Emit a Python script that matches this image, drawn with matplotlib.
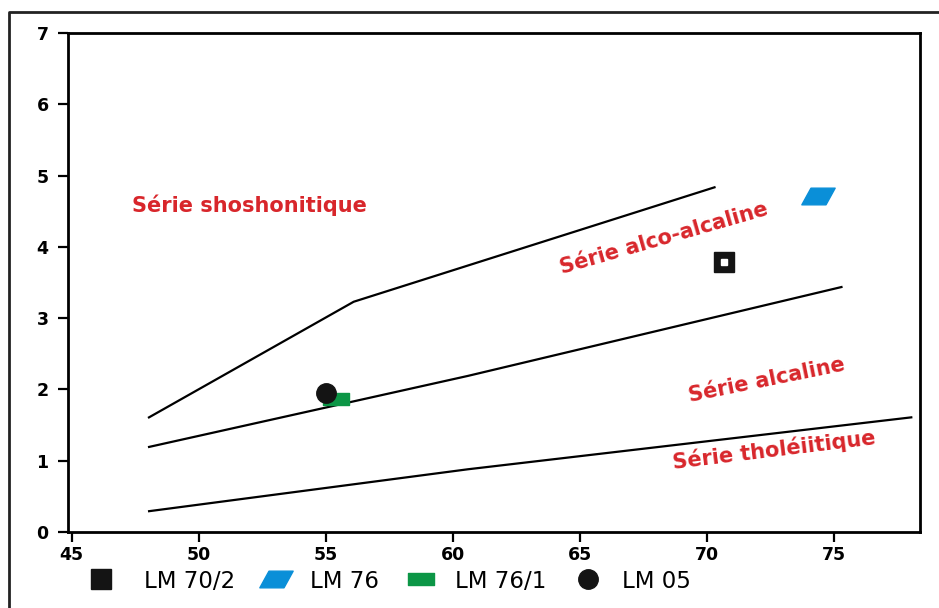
import matplotlib
matplotlib.use("Agg")
import matplotlib.pyplot as plt
from matplotlib.path import Path
from matplotlib.lines import Line2D
from matplotlib.legend_handler import HandlerTuple

# boundary lines (SiO2 vs K2O)
shosho_x = [48.0, 56.1, 70.35]
shosho_y = [1.60, 3.23, 4.84]
calc_x = [48.0, 60.6, 75.35]
calc_y = [1.19, 2.19, 3.44]
thol_x = [48.0, 60.6, 78.1]
thol_y = [0.29, 0.88, 1.61]

# samples
samples = ["LM 70/2", "LM 76", "LM 76/1", "LM 05"]
sample_x = [70.7, 74.4, 55.4, 55.0]
sample_y = [3.79, 4.71, 1.87, 1.95]

# field labels
field_names = ["Série shoshonitique", "Série alco-alcaline", "Série alcaline", "Série tholéiitique"]
field_x = [52.0, 68.3, 72.35, 72.65]
field_y = [4.59, 4.12, 2.13, 1.15]
field_rot = [0, 16, 11.5, 7]

xticks = [45, 50, 55, 60, 65, 70, 75]
yticks = [0, 1, 2, 3, 4, 5, 6, 7]

plt.rcParams['font.family'] = ['DejaVu Sans']

fig = plt.figure(figsize=(9.39, 6.08), dpi=100)
ax = fig.add_axes([68 / 939, 1 - 532 / 608, (920 - 68) / 939, (532 - 33) / 608])

for xs, ys in [(shosho_x, shosho_y), (calc_x, calc_y), (thol_x, thol_y)]:
    ax.plot(xs, ys, color="black", lw=1.6, solid_capstyle="butt")

# custom markers
para = Path([(-1, -0.5), (0.45, -0.5), (1, 0.5), (-0.45, 0.5), (-1, -0.5)],
            [Path.MOVETO, Path.LINETO, Path.LINETO, Path.LINETO, Path.CLOSEPOLY])
rect = Path([(-1, -0.42), (1, -0.42), (1, 0.42), (-1, 0.42), (-1, -0.42)],
            [Path.MOVETO, Path.LINETO, Path.LINETO, Path.LINETO, Path.CLOSEPOLY])

h0a, = ax.plot(sample_x[0], sample_y[0], marker="s", ms=14, color="#141414", ls="none")
h0b, = ax.plot(sample_x[0], sample_y[0], marker="s", ms=4.5, color="white", ls="none")
h1, = ax.plot(sample_x[1], sample_y[1], marker=para, ms=24, color="#0a8fd8", ls="none")
h2, = ax.plot(sample_x[2], sample_y[2], marker=rect, ms=19, color="#0c9646", ls="none")
h3, = ax.plot(sample_x[3], sample_y[3], marker="o", ms=14, color="#141414", ls="none")

for name, x, y, r in zip(field_names, field_x, field_y, field_rot):
    ax.text(x, y, name, color="#d8262b", fontsize=15, fontweight="bold",
            rotation=r, ha="center", va="center", rotation_mode="anchor")

ax.set_xlim(44.85, 78.4)
ax.set_ylim(0, 7)
ax.set_xticks(xticks)
ax.set_yticks(yticks)
ax.tick_params(direction="out", length=7, width=1.6, labelsize=12.5)
ax.tick_params(axis="x", pad=3)
ax.tick_params(axis="y", pad=7)
for lab in ax.get_xticklabels() + ax.get_yticklabels():
    lab.set_fontweight("bold")
for s in ax.spines.values():
    s.set_linewidth(2)

fig.legend([(h0a, h0b), h1, h2, h3], samples, loc="center",
           bbox_to_anchor=(392 / 939, 1 - 581 / 608), ncol=4, frameon=False,
           fontsize=16.5, handlelength=1.4, handletextpad=0.8, columnspacing=1.1,
           handler_map={tuple: HandlerTuple(ndivide=None, pad=0)})

# outer frame
fig.add_artist(Line2D([9 / 939, 9 / 939, 1.0], [0, 1 - 12 / 608, 1 - 12 / 608],
                      transform=fig.transFigure, color="#222222", lw=2))

fig.savefig("out.png", dpi=100)
